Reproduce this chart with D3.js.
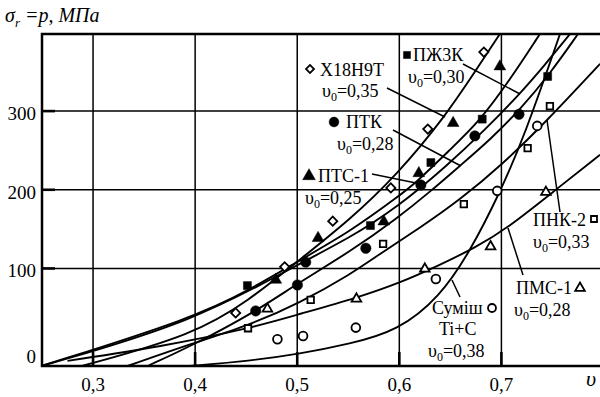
<!DOCTYPE html>
<html><head><meta charset="utf-8">
<script src="https://cdn.jsdelivr.net/npm/d3@7"></script>
<style>
body{margin:0;background:#fff}
svg{display:block}
</style>
</head><body>
<svg id="c" width="600" height="397" font-family="Liberation Serif"></svg>
<script>
// ---------- data ----------
const xTicks = [0.3, 0.4, 0.5, 0.6, 0.7];
const xTickLabels = ["0,3", "0,4", "0,5", "0,6", "0,7"];
const yTicks = [0, 100, 200, 300];
const yTickLabels = ["0", "100", "200", "300"];
const materials = ["Х18Н9Т", "ПЖ3К", "ПТК", "ПТС-1", "ПНК-2", "ПМС-1", "Суміш Ti+C"];
const porosity = ["0,35", "0,30", "0,28", "0,25", "0,33", "0,28", "0,38"];

// experimental points [υ, p]
const ptsX18 = [[0.4397,43.5],[0.4877,102],[0.5348,160.1],[0.5917,202.4],[0.6279,277.1],[0.6828,375]];
const ptsPZh = [[0.4512,78.2],[0.5717,154.5],[0.6309,234.6],[0.6812,289.8],[0.7453,344]];
const ptsPTK = [[0.4593,46],[0.5002,79],[0.5083,108],[0.5672,125.7],[0.6211,206],[0.674,268.5],[0.7172,296]];
const ptsPTS = [[0.479,85.5],[0.5204,138.5],[0.5848,159.6],[0.6191,221],[0.6527,284.7],[0.6985,356.7]];
const ptsPNK = [[0.4518,24],[0.5132,60],[0.5841,131.2],[0.6632,181.7],[0.7257,253],[0.7475,306.3]];
const ptsPMS = [[0.4708,48.6],[0.558,61.3],[0.625,99.4],[0.6894,127.8],[0.7436,197]];
const ptsTiC = [[0.4806,10],[0.5057,14.2],[0.5574,24.8],[0.6358,86.7],[0.6959,198.6],[0.7351,281.2]];

// fitted curves [υ, p]
const curX18 = [[0.289,-24],[0.3985,15.5],[0.4534,60],[0.4995,108.3],[0.5515,161.8],[0.5985,220.2],[0.6446,292.7],[0.674,349.9],[0.6985,398]];
const curPTS = [[0.2495,-24],[0.3985,37.1],[0.4534,72.7],[0.4995,108.3],[0.5515,146.5],[0.5985,191],[0.6162,208.8],[0.6495,250.7],[0.6789,287.6],[0.7083,339.7],[0.7377,398]];
const curPZh = [[0.2495,-24],[0.3985,32],[0.4995,104.5],[0.5515,138.8],[0.5985,178.3],[0.6466,230.4],[0.6838,276.2],[0.7181,321.9],[0.7426,358.8],[0.7672,398]];
const curPTK = [[0.3534,-24],[0.3985,2.8],[0.4603,46],[0.4995,80.4],[0.5515,121.1],[0.5985,164.3],[0.6299,197.3],[0.6593,230.4],[0.6887,263.4],[0.7181,301.6],[0.7475,347.3],[0.775,398]];
const curPNK = [[0.3338,-24],[0.3985,5.3],[0.4515,27],[0.5025,56.2],[0.5515,91.8],[0.5838,121.1],[0.6201,151.6],[0.6593,187.2],[0.7015,232.9],[0.7446,287.6],[0.7966,360]];
const curPMS = [[0.275,-17.5],[0.3652,0.3],[0.4515,23.1],[0.5025,42.2],[0.5584,62.6],[0.6005,81.6],[0.6397,104.5],[0.674,126.1],[0.7064,151.6],[0.7505,197.3],[0.7966,244.4]];
const curTiC = [[0.3946,-24],[0.4534,-17.5],[0.5025,-8.6],[0.5515,4],[0.5985,20.6],[0.6397,63.8],[0.6691,121.1],[0.6985,196.1],[0.723,269.8],[0.7574,398]];

// ---------- layout ----------
const FONT = "Liberation Serif";
const svg = d3.select("#c");
const X0 = 42, X1 = 603.5, Y0 = 366, Y1 = 34;
const x = d3.scaleLinear().domain([0.25, 0.8]).range([X0, X1]);
const y = d3.scaleLinear().domain([-24, 398]).range([Y0, Y1]);

svg.append("defs").append("clipPath").attr("id","clip")
  .append("rect").attr("x",X0).attr("y",Y1).attr("width",X1-X0).attr("height",Y0-Y1);

// grid
const g = svg.append("g");
g.selectAll(".vg").data(xTicks).join("line")
  .attr("x1",d=>x(d)).attr("x2",d=>x(d)).attr("y1",Y1).attr("y2",Y0)
  .attr("stroke","#000").attr("stroke-width",1.5);
g.selectAll(".hg").data(yTicks.filter(d=>d>0)).join("line")
  .attr("x1",X0).attr("x2",X1).attr("y1",d=>y(d)).attr("y2",d=>y(d))
  .attr("stroke","#000").attr("stroke-width",1.5);

// curves
const line = d3.line().x(d=>x(d[0])).y(d=>y(d[1])).curve(d3.curveBasis);
const curves = [curX18, curPZh, curPTK, curPTS, curPNK, curPMS, curTiC];
svg.append("g").attr("clip-path","url(#clip)")
  .selectAll("path").data(curves).join("path")
  .attr("d", line).attr("fill","none").attr("stroke","#000").attr("stroke-width",1.9);

// markers
const sets = [
  {pts:ptsX18, type:d3.symbolSquare, size:42, fill:"#fff", rot:45},
  {pts:ptsPZh, type:d3.symbolSquare, size:64, fill:"#000", rot:0},
  {pts:ptsPTK, type:d3.symbolCircle, size:85, fill:"#000", rot:0},
  {pts:ptsPTS, type:d3.symbolTriangle, size:60, fill:"#000", rot:0},
  {pts:ptsPNK, type:d3.symbolSquare, size:42, fill:"#fff", rot:0},
  {pts:ptsPMS, type:d3.symbolTriangle, size:40, fill:"#fff", rot:0},
  {pts:ptsTiC, type:d3.symbolCircle, size:60, fill:"#fff", rot:0}
];
const mg = svg.append("g");
sets.forEach(s=>{
  mg.selectAll(null).data(s.pts).join("path")
    .attr("d", d3.symbol().type(s.type).size(s.size))
    .attr("transform", d=>`translate(${x(d[0])},${y(d[1])}) rotate(${s.rot})`)
    .attr("fill", s.fill).attr("stroke","#000").attr("stroke-width", s.fill==="#fff"?1.8:0.5);
});

// frame
svg.append("path").attr("d",`M${X1},${Y1}H${X0}V${Y0}H${X1}`)
  .attr("fill","none").attr("stroke","#000").attr("stroke-width",2.5);

// ticks
svg.selectAll(".xt").data(xTicks).join("line")
  .attr("x1",d=>x(d)).attr("x2",d=>x(d)).attr("y1",Y0).attr("y2",Y0-14)
  .attr("stroke","#000").attr("stroke-width",2.6);
svg.selectAll(".yt").data(yTicks.filter(d=>d>0)).join("line")
  .attr("x1",X0).attr("x2",X0+13).attr("y1",d=>y(d)).attr("y2",d=>y(d))
  .attr("stroke","#000").attr("stroke-width",2.6);

// tick labels
svg.selectAll(".xl").data(xTicks).join("text")
  .attr("x",d=>x(d)).attr("y",391).attr("text-anchor","middle")
  .attr("font-family",FONT).attr("font-size",19).text((d,i)=>xTickLabels[i]);
svg.selectAll(".yl").data(yTicks).join("text")
  .attr("x",36).attr("y",d=>y(d)+(d===0?16:9)).attr("text-anchor","end")
  .attr("font-family",FONT).attr("font-size",19).text((d,i)=>yTickLabels[i]);

// axis titles
const t = svg.append("text").attr("x",5).attr("y",22).attr("font-family",FONT)
  .attr("font-size",20).attr("font-style","italic");
t.append("tspan").text("σ");
t.append("tspan").attr("font-size",13).attr("dy",5).text("r");
t.append("tspan").attr("dy",-5).text(" =p, МПа");
svg.append("text").attr("x",586).attr("y",386).attr("font-family",FONT)
  .attr("font-size",22).attr("font-style","italic").text("υ");

// annotations
const ann = [
  {name:0, nx:320, ny:76, ux:322, uy:97, sym:{t:d3.symbolSquare,s:32,f:"#fff",r:45,x:310,y:69}, lead:[[387,88],[445,117]]},
  {name:1, nx:413, ny:61, ux:408, uy:83, sym:{t:d3.symbolSquare,s:50,f:"#000",r:0,x:407,y:55}, lead:[[463,64],[520,94]]},
  {name:2, nx:346, ny:128, ux:337, uy:150, sym:{t:d3.symbolCircle,s:75,f:"#000",r:0,x:334,y:122}, lead:[[393,130],[461,166]]},
  {name:3, nx:318, ny:182, ux:305, uy:204, sym:{t:d3.symbolTriangle,s:70,f:"#000",r:0,x:309,y:176}, lead:[[372,174],[416,183]]},
  {name:4, nx:533, ny:226, ux:533, uy:248, sym:{t:d3.symbolSquare,s:36,f:"#fff",r:0,x:594,y:219}, lead:[[560,212],[547,120]]},
  {name:5, nx:516, ny:294, ux:514, uy:316, sym:{t:d3.symbolTriangle,s:40,f:"#fff",r:0,x:580,y:288}, lead:[[523,275],[508,228]]},
  {name:6, nx:432, ny:314, ux:428, uy:357, sym:{t:d3.symbolCircle,s:50,f:"#fff",r:0,x:492,y:308}, lead:[[460,297],[452,280]]}
];
const ag = svg.append("g").attr("font-family",FONT);
ann.forEach(a=>{
  const nm = materials[a.name];
  if (a.name===6) {
    ag.append("text").attr("x",a.nx).attr("y",a.ny).attr("font-size",18).text("Суміш");
    ag.append("text").attr("x",439).attr("y",335).attr("font-size",18).text("Ti+C");
  } else {
    ag.append("text").attr("x",a.nx).attr("y",a.ny).attr("font-size",18).text(nm);
  }
  const u = ag.append("text").attr("x",a.ux).attr("y",a.uy).attr("font-size",18);
  u.append("tspan").text("υ");
  u.append("tspan").attr("font-size",12).attr("dy",4).text("0");
  u.append("tspan").attr("dy",-4).text("=" + porosity[a.name]);
  ag.append("path").attr("d", d3.symbol().type(a.sym.t).size(a.sym.s))
    .attr("transform",`translate(${a.sym.x},${a.sym.y}) rotate(${a.sym.r})`)
    .attr("fill",a.sym.f).attr("stroke","#000").attr("stroke-width",a.sym.f==="#fff"?1.8:0.5);
  ag.append("line").attr("x1",a.lead[0][0]).attr("y1",a.lead[0][1])
    .attr("x2",a.lead[1][0]).attr("y2",a.lead[1][1])
    .attr("stroke","#000").attr("stroke-width",1.5);
});
</script>
</body></html>
